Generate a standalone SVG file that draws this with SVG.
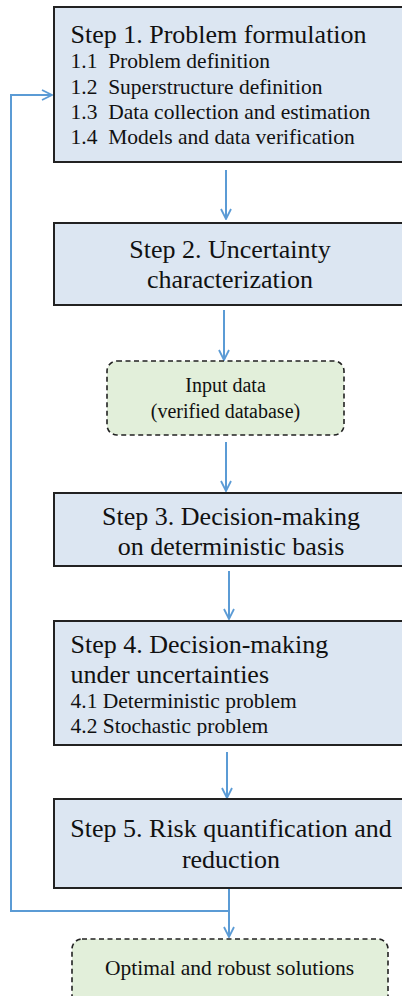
<svg xmlns="http://www.w3.org/2000/svg" width="402" height="996" viewBox="0 0 402 996">
  <defs>
    <style>
      .step { fill: #dce6f2; stroke: #222; stroke-width: 2; }
      .data { fill: #e2efda; stroke: #222; stroke-width: 1.6; stroke-dasharray: 5 3.5; }
      .link { fill: none; stroke: #5b9bd5; stroke-width: 2; }
    </style>
    <marker id="arrow" viewBox="0 0 12 12" refX="11" refY="6" markerWidth="12" markerHeight="12" markerUnits="userSpaceOnUse" orient="auto">
      <path d="M1 1 L11 6 L1 11" fill="none" stroke="#5b9bd5" stroke-width="1.8"/>
    </marker>
    <!-- the Step 4 text frame is shorter than its box, so the last line's descenders are cut -->
    <clipPath id="step4-text">
      <rect x="55" y="622" width="350" height="114"/>
    </clipPath>
  </defs>
  <rect width="402" height="996" fill="#fff"/>

  <g id="connectors">
    <line class="link" x1="226" y1="170" x2="226" y2="219" marker-end="url(#arrow)"/>
    <line class="link" x1="224" y1="310" x2="224" y2="360" marker-end="url(#arrow)"/>
    <line class="link" x1="226" y1="442" x2="226" y2="491" marker-end="url(#arrow)"/>
    <line class="link" x1="229" y1="571" x2="229" y2="619" marker-end="url(#arrow)"/>
    <line class="link" x1="227" y1="752" x2="227" y2="798" marker-end="url(#arrow)"/>
    <line class="link" x1="229" y1="889" x2="229" y2="937" marker-end="url(#arrow)"/>
    <polyline class="link" points="229,911 11,911 11,95 52,95" marker-end="url(#arrow)"/>
  </g>

  <g id="step1">
    <rect class="step" x="54" y="7" width="360" height="155"/>
    <text x="70.5" y="43" font-family="Liberation Serif" font-size="26" fill="#111">Step 1. Problem formulation</text>
    <text x="70.5" y="68" font-family="Liberation Serif" font-size="21.5" fill="#111" xml:space="preserve">1.1  Problem definition</text>
    <text x="70.5" y="94" font-family="Liberation Serif" font-size="21.5" fill="#111" xml:space="preserve">1.2  Superstructure definition</text>
    <text x="70.5" y="119" font-family="Liberation Serif" font-size="21.5" fill="#111" xml:space="preserve">1.3  Data collection and estimation</text>
    <text x="70.5" y="144" font-family="Liberation Serif" font-size="21.5" fill="#111" xml:space="preserve">1.4  Models and data verification</text>
  </g>

  <g id="step2">
    <rect class="step" x="54" y="223" width="360" height="82"/>
    <text x="230" y="258" font-family="Liberation Serif" font-size="26" fill="#111" text-anchor="middle">Step 2. Uncertainty</text>
    <text x="230" y="288" font-family="Liberation Serif" font-size="26" fill="#111" text-anchor="middle">characterization</text>
  </g>

  <g id="input-data">
    <rect class="data" x="107" y="361" width="237" height="74" rx="10" ry="10"/>
    <text x="225.5" y="392" font-family="Liberation Serif" font-size="20" fill="#111" text-anchor="middle">Input data</text>
    <text x="225.5" y="418" font-family="Liberation Serif" font-size="20" fill="#111" text-anchor="middle">(verified database)</text>
  </g>

  <g id="step3">
    <rect class="step" x="54" y="493" width="360" height="73"/>
    <text x="231" y="525" font-family="Liberation Serif" font-size="26" fill="#111" text-anchor="middle">Step 3. Decision-making</text>
    <text x="231" y="555" font-family="Liberation Serif" font-size="26" fill="#111" text-anchor="middle">on deterministic basis</text>
  </g>

  <g id="step4">
    <rect class="step" x="54" y="621" width="360" height="124"/>
    <g clip-path="url(#step4-text)">
      <text x="70.5" y="653" font-family="Liberation Serif" font-size="26" fill="#111">Step 4. Decision-making</text>
      <text x="70.5" y="683" font-family="Liberation Serif" font-size="26" fill="#111">under uncertainties</text>
      <text x="70.5" y="708" font-family="Liberation Serif" font-size="21.5" fill="#111">4.1 Deterministic problem</text>
      <text x="70.5" y="733" font-family="Liberation Serif" font-size="21.5" fill="#111">4.2 Stochastic problem</text>
    </g>
  </g>

  <g id="step5">
    <rect class="step" x="54" y="799" width="360" height="89"/>
    <text x="231" y="837" font-family="Liberation Serif" font-size="26" fill="#111" text-anchor="middle">Step 5. Risk quantification and</text>
    <text x="231" y="868" font-family="Liberation Serif" font-size="26" fill="#111" text-anchor="middle">reduction</text>
  </g>

  <g id="solutions">
    <rect class="data" x="72" y="939" width="316" height="70" rx="10" ry="10"/>
    <text x="229.5" y="975" font-family="Liberation Serif" font-size="21.5" fill="#111" text-anchor="middle">Optimal and robust solutions</text>
  </g>
</svg>
